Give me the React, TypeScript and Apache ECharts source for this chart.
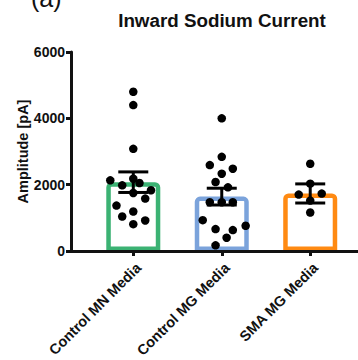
import React, { useEffect, useRef } from "react";
import * as echarts from "echarts";

const categories = ["Control MN Media", "Control MG Media", "SMA MG Media"];
const barColors = ["#3bb273", "#7ba3db", "#ff8a12"];
const means = [2075, 1640, 1735];
const sems = [310, 253, 288];

const groupValues = [
  [4800, 4400, 3080, 2130, 1980, 2180, 2050, 1750, 1830, 1580, 1370, 1190, 1040, 920, 810],
  [4000, 2840, 2590, 2480, 2330, 2080, 1920, 1470, 1470, 1470, 930, 660, 630, 760, 400, 170],
  [2630, 2030, 1700, 1730, 1520, 1160],
];
// horizontal jitter of each dot, in category units
const groupJitter = [
  [0, 0, 0, -0.26, -0.125, 0, 0.07, 0, 0.2, 0.135, -0.19, 0, -0.125, 0.135, 0],
  [0, 0, -0.135, 0.125, 0, -0.07, 0.07, -0.135, 0, 0.125, -0.215, -0.07, 0.125, 0.27, 0.055, -0.07],
  [0, 0, -0.13, 0.13, 0, 0],
];
const yTicks = [0, 2000, 4000, 6000];

const FONT = "'Liberation Sans', Arial, Helvetica, sans-serif";

export default function App() {
  const ref = useRef<HTMLDivElement>(null);
  useEffect(() => {
    if (!ref.current) return;
    const chart = echarts.init(ref.current, null, { renderer: "svg" });
    const scatterData: number[][] = [];
    groupValues.forEach((vals, gi) => {
      vals.forEach((v, k) => scatterData.push([gi + groupJitter[gi][k], v]));
    });
    const catIdx = categories.map((_, i) => i);
    chart.setOption({
      animation: false,
      grid: {
        left: 71,
        right: 0,
        top: 52,
        bottom: 109,
        containLabel: false,
        outerBoundsMode: "none",
      },
      graphic: [
        {
          type: "text",
          style: {
            text: "Inward Sodium Current",
            x: 222,
            y: 11,
            textAlign: "center",
            textVerticalAlign: "top",
            font: `bold 18.8px ${FONT}`,
            fill: "#111",
          },
        },
        {
          type: "text",
          style: {
            text: "(a)",
            x: 31,
            y: 10,
            textAlign: "left",
            textVerticalAlign: "bottom",
            font: `25px ${FONT}`,
            fill: "#111",
          },
        },
      ],
      xAxis: {
        type: "value",
        min: -0.704,
        max: 2.54,
        z: 10,
        splitLine: { show: false },
        axisLine: { show: true, onZero: false, lineStyle: { color: "#111", width: 3 } },
        axisTick: { show: true, customValues: catIdx, length: 5, lineStyle: { color: "#111", width: 3 } },
        axisLabel: {
          customValues: catIdx,
          formatter: (v: number) => categories[Math.round(v)] ?? "",
          rotate: 45,
          margin: 9,
          verticalAlign: "top",
          color: "#111",
          fontSize: 14.5,
          fontWeight: "bold",
          fontFamily: FONT,
        },
      },
      yAxis: {
        type: "value",
        min: 0,
        max: 6000,
        interval: 2000,
        name: "Amplitude [pA]",
        nameLocation: "middle",
        nameGap: 41,
        nameMoveOverlap: false,
        nameTextStyle: { color: "#111", fontSize: 14.5, fontWeight: "bold", fontFamily: FONT },
        splitLine: { show: false },
        axisLine: { show: true, onZero: false, lineStyle: { color: "#111", width: 3 } },
        axisTick: { show: true, length: 5, lineStyle: { color: "#111", width: 3 } },
        axisLabel: {
          margin: 6,
          color: "#111",
          fontSize: 14,
          fontWeight: "bold",
          fontFamily: FONT,
          formatter: (v: number) => (yTicks.includes(v) ? String(v) : ""),
        },
      },
      series: [
        {
          type: "bar",
          data: means.map((m, i) => ({
            value: [i, m],
            itemStyle: {
              color: "rgba(255,255,255,0)",
              borderColor: barColors[i],
              borderWidth: 4.5,
              borderRadius: [3, 3, 0, 0],
            },
          })),
          barWidth: 54,
          z: 2,
        },
        {
          type: "scatter",
          data: scatterData,
          symbol: "circle",
          symbolSize: 8.5,
          itemStyle: { color: "#000", opacity: 1 },
          z: 3,
        },
        {
          type: "custom",
          data: means.map((m, i) => [i, m, sems[i]]),
          encode: { x: 0, y: 1 },
          z: 4,
          renderItem: (params: any, api: any) => {
            const x = api.value(0);
            const m = api.value(1);
            const s = api.value(2);
            const top = api.coord([x, m + s]);
            const bot = api.coord([x, m - s]);
            const half = 15;
            const st = { stroke: "#000", lineWidth: 3 };
            return {
              type: "group",
              children: [
                { type: "line", shape: { x1: top[0], y1: top[1], x2: bot[0], y2: bot[1] }, style: st },
                { type: "line", shape: { x1: top[0] - half, y1: top[1], x2: top[0] + half, y2: top[1] }, style: st },
                { type: "line", shape: { x1: bot[0] - half, y1: bot[1], x2: bot[0] + half, y2: bot[1] }, style: st },
              ],
            };
          },
        },
      ],
    });
    return () => chart.dispose();
  }, []);
  return (
    <div
      ref={ref}
      style={{ position: "fixed", left: 0, top: 0, width: 358, height: 360, background: "#fff" }}
    />
  );
}
